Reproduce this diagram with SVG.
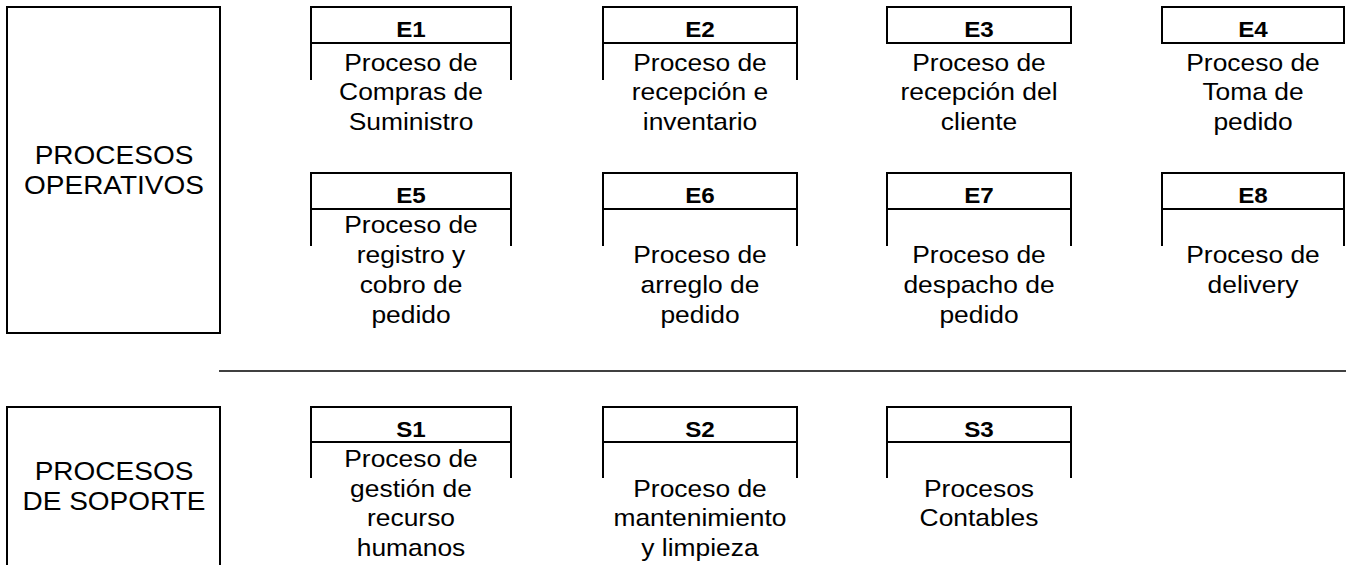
<svg xmlns="http://www.w3.org/2000/svg" width="1346" height="565" viewBox="0 0 1346 565">
<style>
  .bx{fill:none;stroke:#000;stroke-width:2}
  .sep{fill:none;stroke:#000;stroke-width:1.5}
  .t{font-family:"Liberation Sans",Arial,sans-serif;font-size:24px;fill:#000;text-anchor:middle}
  .h{font-family:"Liberation Sans",Arial,sans-serif;font-size:22px;font-weight:bold;fill:#000;text-anchor:middle}
  .l{font-family:"Liberation Sans",Arial,sans-serif;font-size:25px;fill:#000;text-anchor:middle}
</style>
<rect width="1346" height="565" fill="#fff"/>
<g id="connectors">
  <line class="sep" x1="219" y1="371" x2="1346" y2="371"/>
</g>
<g id="operativos">
  <rect class="bx" x="7" y="7" width="213" height="326"/>
  <text class="l" transform="matrix(1.12 0 0 1 114 0)"><tspan x="0" y="164">PROCESOS</tspan><tspan x="0" y="194">OPERATIVOS</tspan></text>
</g>
<g id="soporte">
  <path class="bx" d="M7 570 V407 H220 V570"/>
  <text class="l" transform="matrix(1.12 0 0 1 114 0)"><tspan x="0" y="480">PROCESOS</tspan><tspan x="0" y="510">DE SOPORTE</tspan></text>
</g>
<g id="E1">
  <rect class="bx" x="311" y="7" width="200" height="36"/>
  <path class="bx" d="M311 43 V80 M511 43 V80"/>
  <text class="h" transform="matrix(1.1 0 0 1 411 0)" x="0" y="37">E1</text>
  <text class="t" transform="matrix(1.1 0 0 1 411 0)"><tspan x="0" y="71">Proceso de</tspan><tspan x="0" y="100.5">Compras de</tspan><tspan x="0" y="130">Suministro</tspan></text>
</g>
<g id="E2">
  <rect class="bx" x="603" y="7" width="194" height="36"/>
  <path class="bx" d="M603 43 V80 M797 43 V80"/>
  <text class="h" transform="matrix(1.1 0 0 1 700 0)" x="0" y="37">E2</text>
  <text class="t" transform="matrix(1.1 0 0 1 700 0)"><tspan x="0" y="71">Proceso de</tspan><tspan x="0" y="100.5">recepción e</tspan><tspan x="0" y="130">inventario</tspan></text>
</g>
<g id="E3">
  <rect class="bx" x="887" y="7" width="184" height="36"/>
  <text class="h" transform="matrix(1.1 0 0 1 979 0)" x="0" y="37">E3</text>
  <text class="t" transform="matrix(1.1 0 0 1 979 0)"><tspan x="0" y="71">Proceso de</tspan><tspan x="0" y="100.5">recepción del</tspan><tspan x="0" y="130">cliente</tspan></text>
</g>
<g id="E4">
  <rect class="bx" x="1162" y="7" width="182" height="36"/>
  <text class="h" transform="matrix(1.1 0 0 1 1253 0)" x="0" y="37">E4</text>
  <text class="t" transform="matrix(1.1 0 0 1 1253 0)"><tspan x="0" y="71">Proceso de</tspan><tspan x="0" y="100.5">Toma de</tspan><tspan x="0" y="130">pedido</tspan></text>
</g>
<g id="E5">
  <rect class="bx" x="311" y="173" width="200" height="36"/>
  <path class="bx" d="M311 209 V246 M511 209 V246"/>
  <text class="h" transform="matrix(1.1 0 0 1 411 0)" x="0" y="203">E5</text>
  <text class="t" transform="matrix(1.1 0 0 1 411 0)"><tspan x="0" y="233.5">Proceso de</tspan><tspan x="0" y="263">registro y</tspan><tspan x="0" y="293">cobro de</tspan><tspan x="0" y="323">pedido</tspan></text>
</g>
<g id="E6">
  <rect class="bx" x="603" y="173" width="194" height="36"/>
  <path class="bx" d="M603 209 V246 M797 209 V246"/>
  <text class="h" transform="matrix(1.1 0 0 1 700 0)" x="0" y="203">E6</text>
  <text class="t" transform="matrix(1.1 0 0 1 700 0)"><tspan x="0" y="263">Proceso de</tspan><tspan x="0" y="293">arreglo de</tspan><tspan x="0" y="323">pedido</tspan></text>
</g>
<g id="E7">
  <rect class="bx" x="887" y="173" width="184" height="36"/>
  <path class="bx" d="M887 209 V246 M1071 209 V246"/>
  <text class="h" transform="matrix(1.1 0 0 1 979 0)" x="0" y="203">E7</text>
  <text class="t" transform="matrix(1.1 0 0 1 979 0)"><tspan x="0" y="263">Proceso de</tspan><tspan x="0" y="293">despacho de</tspan><tspan x="0" y="323">pedido</tspan></text>
</g>
<g id="E8">
  <rect class="bx" x="1162" y="173" width="182" height="36"/>
  <path class="bx" d="M1162 209 V246 M1344 209 V246"/>
  <text class="h" transform="matrix(1.1 0 0 1 1253 0)" x="0" y="203">E8</text>
  <text class="t" transform="matrix(1.1 0 0 1 1253 0)"><tspan x="0" y="263">Proceso de</tspan><tspan x="0" y="293">delivery</tspan></text>
</g>
<g id="S1">
  <rect class="bx" x="311" y="407" width="200" height="35"/>
  <path class="bx" d="M311 442 V478 M511 442 V478"/>
  <text class="h" transform="matrix(1.1 0 0 1 411 0)" x="0" y="437">S1</text>
  <text class="t" transform="matrix(1.1 0 0 1 411 0)"><tspan x="0" y="467">Proceso de</tspan><tspan x="0" y="497">gestión de</tspan><tspan x="0" y="526.5">recurso</tspan><tspan x="0" y="556">humanos</tspan></text>
</g>
<g id="S2">
  <rect class="bx" x="603" y="407" width="194" height="35"/>
  <path class="bx" d="M603 442 V478 M797 442 V478"/>
  <text class="h" transform="matrix(1.1 0 0 1 700 0)" x="0" y="437">S2</text>
  <text class="t" transform="matrix(1.1 0 0 1 700 0)"><tspan x="0" y="497">Proceso de</tspan><tspan x="0" y="526.5">mantenimiento</tspan><tspan x="0" y="556">y limpieza</tspan></text>
</g>
<g id="S3">
  <rect class="bx" x="887" y="407" width="184" height="35"/>
  <path class="bx" d="M887 442 V478 M1071 442 V478"/>
  <text class="h" transform="matrix(1.1 0 0 1 979 0)" x="0" y="437">S3</text>
  <text class="t" transform="matrix(1.1 0 0 1 979 0)"><tspan x="0" y="497">Procesos</tspan><tspan x="0" y="526.5">Contables</tspan></text>
</g>
</svg>
